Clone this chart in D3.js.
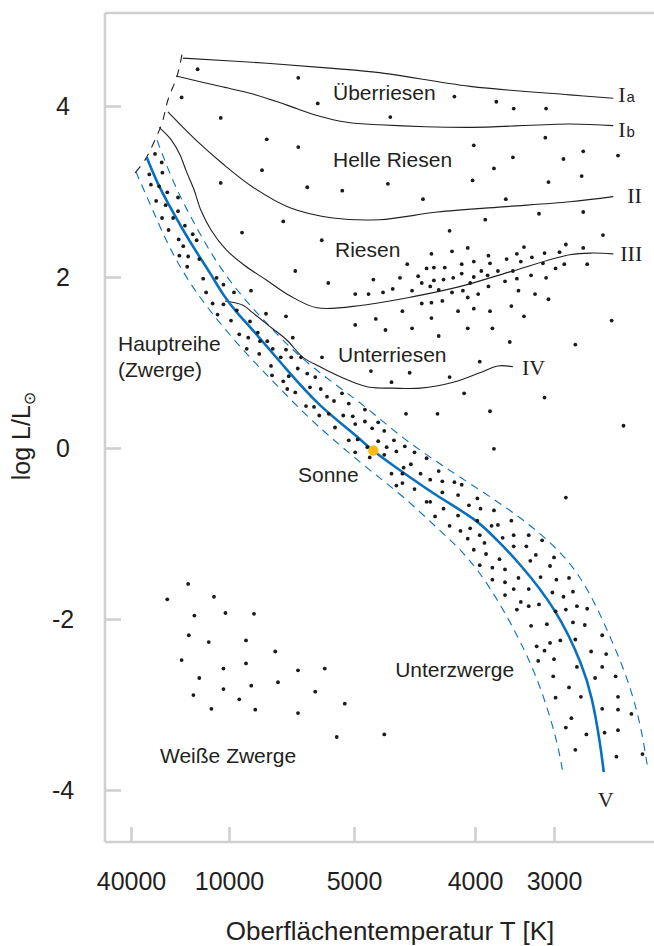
<!DOCTYPE html>
<html>
<head>
<meta charset="utf-8">
<script src="https://cdn.jsdelivr.net/npm/d3@7"></script>
<style>
  html, body { margin: 0; padding: 0; background: #fff; }
  svg { display: block; font-family: "Liberation Sans", Arial, sans-serif; }
</style>
</head>
<body>
<script>
// ---------- Hertzsprung–Russell diagram data: [temperature K, log L/L_sun] ----------
const tempTicks = [40000, 10000, 5000, 4000, 3000];
const lumTicks = [-4, -2, 0, 2, 4];

// Luminosity classes
const classIa  = [[24100,4.56],[8480,4.50],[5840,4.44],[4790,4.39],[4040,4.23],[2800,4.13],[2250,4.09]];
const classIb  = [[26200,4.35],[12760,4.23],[9040,4.14],[7680,4.01],[6480,3.89],[5280,3.81],[4790,3.78],[4040,3.75],[2800,3.79],[2250,3.77]];
const classII  = [[28700,3.93],[20100,3.60],[12100,3.33],[9040,3.05],[7560,2.81],[5840,2.69],[4790,2.67],[4310,2.76],[3650,2.82],[2800,2.88],[2250,2.94]];
const classIII = [[31400,3.75],[27800,3.61],[25000,3.43],[23200,3.25],[20700,3.02],[18600,2.78],[15500,2.55],[10900,2.32],[9400,2.14],[8480,1.96],[7560,1.78],[6480,1.64],[4930,1.67],[4510,1.77],[4120,1.89],[3560,2.06],[2800,2.26],[2510,2.28],[2250,2.27]];
const classIV  = [[11200,1.72],[9440,1.67],[9040,1.58],[8360,1.42],[7680,1.26],[7040,1.06],[6360,0.95],[5680,0.85],[5040,0.77],[4870,0.71],[4680,0.70],[4450,0.70],[4180,0.77],[3940,0.88],[3710,0.96],[3520,0.95]];
const classEdge = [[24400,4.60],[25900,4.35],[28700,4.07],[30500,3.80],[32700,3.60],[35700,3.37],[40000,3.16]];

// Main sequence (class V) and its band
const mainSequence = [[35200,3.40],[32000,3.10],[28100,2.82],[24100,2.55],[19800,2.28],[15800,2.05],[11500,1.77],[9680,1.58],[9040,1.38],[7680,0.91],[6360,0.48],[5040,0.18],[4840,-0.04],[4700,-0.18],[4310,-0.57],[3970,-0.84],[3720,-1.08],[3470,-1.31],[2960,-1.89],[2630,-2.56],[2520,-2.91],[2420,-3.42],[2370,-3.79]];
const bandUpper = [[32000,3.60],[27100,3.10],[21300,2.67],[14900,2.23],[9640,1.82],[8440,1.44],[7280,1.09],[5840,0.76],[4890,0.47],[4640,0.16],[4350,-0.13],[4060,-0.40],[3610,-0.69],[3190,-0.98],[2770,-1.35],[2490,-1.79],[2270,-2.25],[2060,-2.71],[1900,-3.24],[1820,-3.71]];
const bandLower = [[38500,3.23],[33300,2.78],[28100,2.32],[21300,1.88],[13100,1.47],[9240,1.08],[8080,0.73],[6880,0.37],[5640,0.05],[4870,-0.26],[4580,-0.58],[4310,-0.94],[4070,-1.25],[3800,-1.64],[3520,-2.09],[3280,-2.54],[3090,-3.01],[2940,-3.51],[2890,-3.79]];

const sun = [4840, -0.03];

// Stars
const upperStars = [[19600,4.43],[7230,4.33],[24500,4.10],[6450,4.03],[12540,3.86],[8490,3.61],[7230,3.52],[8680,3.25],[12540,3.10],[6870,3.05],[5470,3.01],[7830,2.65],[9480,2.52],[6290,2.43],[7350,2.07],[6030,1.93],[4990,1.80],[4880,1.80],[4840,1.97],[9120,1.84],
  [4170,4.11],[3730,4.05],[3510,3.97],[3100,3.97],[4700,3.87],[3110,3.63],[4010,3.54],[3520,3.40],[2880,3.38],[2630,3.47],[2190,3.42],[3760,3.27],[2650,3.18],[3070,3.11],[4020,3.13],[4720,3.09],[4430,2.91],[3610,2.91],[3870,2.67],[3190,2.74],[2630,2.76],[4210,2.54],[2380,2.49]];

const giantStars = [[4190,2.30],[4060,2.34],[4360,2.27],[4560,2.15],[4400,2.10],[4340,2.11],[4250,2.11],[4110,2.15],[4620,1.99],[4470,2.01],[4440,1.93],[4340,1.96],[4260,1.97],[4180,1.99],[4110,2.04],[4760,1.82],[4680,1.86],[4520,1.84],[4370,1.89],[4300,1.85],[4190,1.82],[4100,1.84],[4060,1.76],[4440,1.69],[4360,1.70],[4270,1.72],[7720,1.54],[4600,1.60],[4140,1.60],[4820,1.51],[4990,1.44],[4360,1.52],[4740,1.38],[4520,1.40],[4060,1.40],[4300,1.31],[7450,1.29],
  [3830,2.25],[3470,2.27],[3380,2.35],[3600,2.21],[3280,2.23],[3120,2.28],[2930,2.29],[2850,2.38],[2630,2.34],[4010,2.18],[3810,2.16],[3420,2.18],[3140,2.16],[2980,2.10],[2870,2.15],[2580,2.15],[4010,2.00],[3920,2.07],[3840,2.02],[3710,2.07],[3520,2.07],[3290,2.02],[3100,1.99],[4040,1.93],[3830,1.89],[3620,1.95],[3470,1.98],[3960,1.80],[3450,1.84],[3240,1.80],[3070,1.74],[4010,1.63],[3810,1.60],[3540,1.66],[3380,1.54],[3780,1.40],[3560,1.24],[2730,1.21],[2270,1.49]];

const fieldStars = [[3940,1.01],[4860,0.90],[4540,0.88],[4210,0.83],[4690,0.77],[4090,0.64],[3120,0.59],[4570,0.40],[4310,0.40],[3810,0.43],[2120,0.26],[3760,-0.01],[2850,-0.58],[6280,1.06],[4750,-3.35]];

const mainSequenceStars = [[32650,3.44],[30600,3.34],[30400,3.22],[34400,3.20],[33900,3.08],[31400,3.06],[28900,2.99],[32300,2.89],[29400,2.84],[25600,2.93],[25600,2.77],[30500,2.69],[27100,2.69],[23500,2.60],[28500,2.55],[21100,2.50],[25400,2.44],[19900,2.43],[24000,2.36],[25200,2.25],[22500,2.24],[19100,2.21],[22800,2.12],[17900,1.98],[13800,1.99],[11700,1.91],[17000,1.82],[9800,1.82],
  [11700,1.68],[15000,1.69],[9690,1.61],[13500,1.56],[8520,1.57],[9920,1.49],[9160,1.48],[9590,1.33],[8850,1.35],[9230,1.29],[8760,1.25],[8470,1.25],[9290,1.16],[8790,1.10],[8250,1.16],[7720,1.15],[7930,1.06],[7510,1.06],[7120,1.06],[8320,0.96],[7250,0.93],[6870,0.87],[6550,0.83],[8280,0.85],[7610,0.84],[7830,0.78],[6760,0.71],[6330,0.69],[7670,0.69],[7350,0.65],[6080,0.60],[5800,0.55],[5480,0.64],[5210,0.52],[6920,0.49],[6600,0.48],[4910,0.45],[6390,0.38],[6010,0.40],[5430,0.38],[5050,0.37],[4910,0.31],[4800,0.30],[5760,0.24],[4990,0.28],[4850,0.23],[4750,0.20],[5210,0.09],[4970,0.10],[4800,0.08],[4890,0.01],[4730,0.01],[4990,-0.05],[4750,-0.08],[4870,-0.11],
  [4670,0.09],[4650,-0.04],[4580,0.02],[4500,-0.05],[4400,-0.12],[4690,-0.30],[4600,-0.30],[4530,-0.19],[4590,-0.23],[4450,-0.30],[4300,-0.27],[4600,-0.41],[4650,-0.44],[4500,-0.48],[4370,-0.37],[4270,-0.39],[4170,-0.40],[4110,-0.43],[4270,-0.52],[4140,-0.55],[3970,-0.59],[4400,-0.63],[4370,-0.63],[4260,-0.71],[4050,-0.67],[3930,-0.71],[3760,-0.73],[4330,-0.80],[4140,-0.79],[3970,-0.85],[4210,-0.91],[4120,-0.97],[4040,-0.94],[3790,-0.91],[3710,-0.90],[3540,-0.85],[4060,-1.06],[3940,-1.02],[3880,-1.11],[3650,-1.05],[3510,-1.02],[3320,-1.02],[3150,-1.08],[4010,-1.19],[3860,-1.24],[3510,-1.15],[3350,-1.15],[3230,-1.25],[3000,-1.28],
  [3940,-1.37],[3780,-1.40],[3690,-1.30],[3620,-1.42],[3300,-1.32],[3050,-1.38],[3780,-1.54],[3620,-1.57],[3450,-1.52],[3320,-1.65],[3170,-1.51],[2970,-1.54],[2810,-1.52],[3620,-1.72],[3510,-1.65],[3420,-1.80],[3320,-1.85],[3190,-1.83],[3020,-1.69],[2880,-1.74],[2760,-1.68],[3470,-1.89],[2980,-1.91],[2850,-1.89],[2710,-1.85],[2580,-1.88],[3290,-2.08],[3090,-2.06],[2760,-2.04],[2610,-2.07],[2390,-2.19],[3220,-2.32],[3050,-2.28],[2920,-2.25],[2730,-2.24],[3120,-2.37],[3200,-2.49],[3000,-2.47],[2530,-2.38],[2340,-2.41],[2710,-2.56],[2390,-2.56],[3010,-2.67],[2480,-2.69],[2220,-2.67],[2810,-2.80],[2980,-2.92],[2660,-2.91],[2190,-2.91],[2780,-3.16],[2850,-3.27],[2390,-3.05],[2190,-3.06],[2020,-3.11],[2590,-3.35],[2360,-3.33],[2190,-3.30],[2730,-3.53],[2210,-3.61],[1880,-3.58]];

const whiteDwarfStars = [[22500,-1.59],[28900,-1.77],[14600,-1.74],[20600,-1.96],[11100,-1.93],[9000,-1.94],[22300,-2.19],[16200,-2.27],[9320,-2.25],[8150,-2.38],[24500,-2.48],[11700,-2.58],[9320,-2.52],[7240,-2.60],[6170,-2.58],[19100,-2.69],[11700,-2.82],[9110,-2.78],[8040,-2.74],[6550,-2.85],[20900,-2.89],[9590,-2.94],[5370,-2.99],[15400,-3.05],[8950,-3.06],[7240,-3.10],[5690,-3.38]];

// Region names and their anchor points (temperature, log L)
const regionNames   = ["Überriesen", "Helle Riesen", "Riesen", "Unterriesen", "Hauptreihe", "(Zwerge)", "Sonne", "Unterzwerge", "Weiße Zwerge"];
const regionAnchors = [[5840,4.07],[5840,3.29],[5760,2.23],[5640,1.01],[43980,1.13],[43980,0.83],[7240,-0.40],[4660,-2.68],[31120,-3.68]];

// ---------- layout ----------
const width = 654, height = 946;
const frame = { left: 105, right: 654, top: 13, bottom: 842 };
const ink = "#231f20", axisGrey = "#d0d0d0", blue = "#0a70bd";
const sans = "Liberation Sans, Arial, sans-serif";

const svg = d3.select("body").append("svg")
  .attr("width", width).attr("height", height);

// Temperature axis is schematic: piecewise between the labelled temperatures
const x = d3.scaleLinear().domain(tempTicks).range([131, 229, 354, 475, 554]);
const y = d3.scaleLinear().domain([-4, 4]).range([790, 106]);

// frame
const frameG = svg.append("g").attr("stroke", axisGrey).attr("stroke-width", 2.6).attr("fill", "none");
frameG.append("line").attr("x1", frame.left).attr("x2", frame.left).attr("y1", frame.top).attr("y2", frame.bottom);
frameG.append("line").attr("x1", frame.left).attr("x2", frame.right).attr("y1", frame.top).attr("y2", frame.top);
frameG.append("line").attr("x1", frame.left).attr("x2", frame.right).attr("y1", frame.bottom).attr("y2", frame.bottom);

// axes
const gx = svg.append("g").attr("transform", `translate(0,${frame.bottom})`)
  .call(d3.axisBottom(x).tickValues(tempTicks).tickSize(-15).tickFormat(d => String(d)));
gx.select(".domain").remove();
gx.selectAll(".tick line").attr("stroke", axisGrey).attr("stroke-width", 2.6);
gx.selectAll(".tick text").attr("y", 48).attr("dy", null)
  .attr("fill", ink).attr("font-size", 25).attr("font-family", sans);

const gy = svg.append("g").attr("transform", `translate(${frame.left},0)`)
  .call(d3.axisLeft(y).tickValues(lumTicks).tickSize(-16).tickFormat(d => String(d)));
gy.select(".domain").remove();
gy.selectAll(".tick line").attr("stroke", axisGrey).attr("stroke-width", 2.6);
gy.selectAll(".tick text").attr("x", -42).attr("text-anchor", "middle").attr("dy", "0.34em")
  .attr("fill", ink).attr("font-size", 25).attr("font-family", sans);

// axis titles
svg.append("text")
  .attr("x", 390).attr("y", 940)
  .attr("text-anchor", "middle").attr("font-size", 26).attr("fill", ink)
  .text("Oberflächentemperatur T [K]");

const yTitle = svg.append("text")
  .attr("transform", "translate(30,436) rotate(-90)")
  .attr("text-anchor", "middle").attr("font-size", 25).attr("fill", ink);
yTitle.append("tspan").text("log L/L");
yTitle.append("tspan").attr("font-size", 16).attr("dy", 5)
  .attr("font-family", "DejaVu Sans, sans-serif").text("\u2299");

// ---------- curves ----------
const curve = d3.line().x(d => x(d[0])).y(d => y(d[1])).curve(d3.curveCatmullRom.alpha(0.5));
const smooth = d3.line().x(d => x(d[0])).y(d => y(d[1])).curve(d3.curveBasis);

const plotG = svg.append("g");

plotG.selectAll("path.band").data([bandUpper, bandLower]).join("path")
  .attr("class", "band").attr("d", smooth)
  .attr("fill", "none").attr("stroke", blue).attr("stroke-width", 1.1)
  .attr("stroke-dasharray", "8,6");

const classLines = [classIa, classIb, classII, classIII, classIV];
plotG.selectAll("path.cls").data(classLines).join("path")
  .attr("class", "cls").attr("d", curve)
  .attr("fill", "none").attr("stroke", ink).attr("stroke-width", 1.1);

plotG.append("path").datum(classEdge).attr("d", curve)
  .attr("fill", "none").attr("stroke", ink).attr("stroke-width", 1.1)
  .attr("stroke-dasharray", "8,7");

plotG.append("path").datum(mainSequence).attr("d", smooth)
  .attr("fill", "none").attr("stroke", blue).attr("stroke-width", 2.6);

// ---------- stars ----------
const allStars = [].concat(upperStars, giantStars, fieldStars, mainSequenceStars, whiteDwarfStars);
plotG.selectAll("circle.star").data(allStars).join("circle")
  .attr("class", "star")
  .attr("cx", d => x(d[0])).attr("cy", d => y(d[1]))
  .attr("r", 1.9).attr("fill", "#1a1a1a");

plotG.append("circle")
  .attr("cx", x(sun[0])).attr("cy", y(sun[1]))
  .attr("r", 5.2).attr("fill", "#fdb913");

// ---------- labels ----------
svg.append("g").selectAll("text").data(regionNames).join("text")
  .attr("x", (d, i) => x(regionAnchors[i][0]))
  .attr("y", (d, i) => y(regionAnchors[i][1]))
  .attr("font-size", 21).attr("fill", ink)
  .text(d => d);

// luminosity class numerals at the end of each curve
const serif = "Liberation Serif, Times New Roman, serif";
const classNames = [["I", "a"], ["I", "b"], ["II", ""], ["III", ""], ["IV", ""]];
const classOffsets = [[5, 4], [5, 11], [14, 6], [7, 7], [9, 8]];
classLines.forEach((pts, i) => {
  const end = pts[pts.length - 1];
  const t = svg.append("text")
    .attr("x", x(end[0]) + classOffsets[i][0])
    .attr("y", y(end[1]) + classOffsets[i][1])
    .attr("fill", ink);
  t.append("tspan").attr("font-family", serif).attr("font-size", 22).text(classNames[i][0]);
  if (classNames[i][1]) {
    t.append("tspan").attr("font-size", 15).attr("dx", 1).text(classNames[i][1]);
  }
});
const msEnd = mainSequence[mainSequence.length - 1];
svg.append("text")
  .attr("x", x(msEnd[0]) + 2).attr("y", y(msEnd[1]) + 35)
  .attr("text-anchor", "middle").attr("font-family", serif).attr("font-size", 22)
  .attr("fill", ink).text("V");
</script>
</body>
</html>
